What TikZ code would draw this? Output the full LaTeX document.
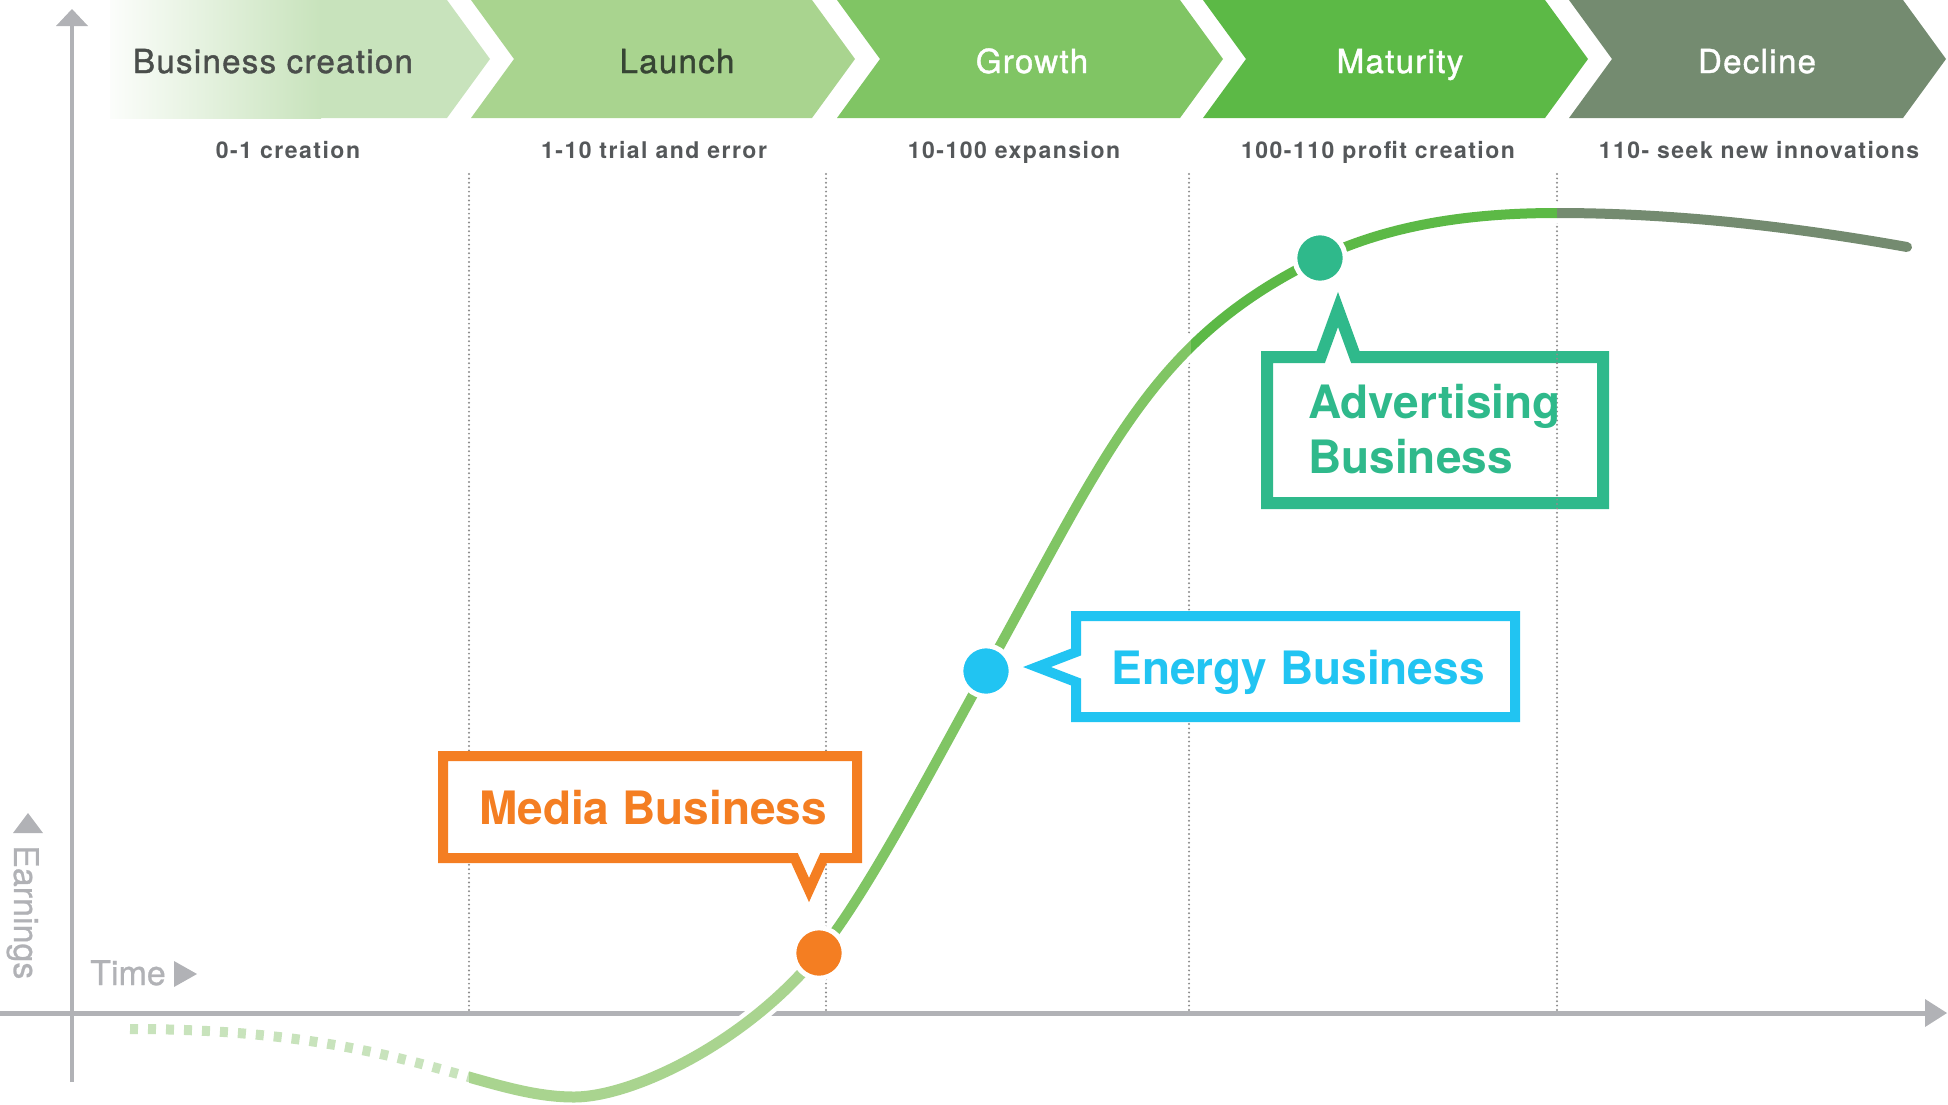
\documentclass[tikz,border=0pt]{standalone}
\usepackage{fontspec}
\setmainfont{TeX Gyre Heros}
\newfontfamily\chevfont{TeX Gyre Heros}[LetterSpace=4, FakeBold=1.2]
\newfontfamily\tagfont{TeX Gyre Heros}[LetterSpace=6.5]
\newfontfamily\axisfont{TeX Gyre Heros}[FakeBold=0.8]

\definecolor{stageA}{HTML}{C8E3BC}
\definecolor{stageB}{HTML}{A9D48F}
\definecolor{stageC}{HTML}{80C564}
\definecolor{stageD}{HTML}{5CB946}
\definecolor{stageE}{HTML}{748B70}
\definecolor{axisgray}{HTML}{B1B2B6}
\definecolor{guidegray}{HTML}{8C8C8C}
\definecolor{subgray}{HTML}{55585A}
\definecolor{darktxt}{HTML}{4A4E4B}
\definecolor{launchtxt}{HTML}{374534}
\definecolor{mediaor}{HTML}{F47E22}
\definecolor{energybl}{HTML}{21C4F2}
\definecolor{adteal}{HTML}{2FB98B}

% earnings curve through the life-cycle stages
\newcommand\lifecurve{(130,1029)
  .. controls (400,1029) and (480,1097) .. (574,1097)
  .. controls (634,1097) and (749,1040.5) .. (819,953)
  .. controls (869,890.5) and (931,770) .. (986,671)
  .. controls (1106,455) and (1150,339.6) .. (1320,258)
  .. controls (1395,222) and (1480,213) .. (1557,213)
  .. controls (1680,213) and (1800,228) .. (1907,247)}

\begin{document}
\begin{tikzpicture}[x=1pt,y=-1pt,line join=miter,
  stagelbl/.style={inner sep=0pt, anchor=base, font=\chevfont\fontsize{33}{40}\selectfont},
  sublbl/.style={inner sep=0pt, anchor=base, text=subgray, font=\tagfont\bfseries\fontsize{23}{27}\selectfont},
  guide/.style={guidegray, line width=2.2pt, line cap=round, dash pattern=on 0pt off 4.4pt},
  callout/.style={line width=10pt, miter limit=10},
  calltxt/.style={inner sep=0pt, anchor=base, font=\bfseries\fontsize{46}{55}\selectfont},
  marker/.style={circle, inner sep=0pt, minimum size=50.4pt, draw=white, line width=5pt},
  axislbl/.style={inner sep=0pt, text=axisgray, font=\axisfont\fontsize{34}{40}\selectfont},
]
\useasboundingbox (0,0) rectangle (1948,1104);

% ---- stage chevrons ----
\fill[stageA] (110,0) -- (447,0) -- (490,59) -- (447,118) -- (110,118) -- cycle;
\shade[left color=stageA!6, right color=stageA] (110,0) rectangle (321,118);
\fill[stageB] (471,0) -- (812,0) -- (855,59) -- (812,118) -- (471,118) -- (514,59) -- cycle;
\fill[stageC] (837,0) -- (1180,0) -- (1223,59) -- (1180,118) -- (837,118) -- (880,59) -- cycle;
\fill[stageD] (1203,0) -- (1545,0) -- (1588,59) -- (1545,118) -- (1203,118) -- (1246,59) -- cycle;
\fill[stageE] (1569,0) -- (1903,0) -- (1946,59) -- (1903,118) -- (1569,118) -- (1612,59) -- cycle;

\node[stagelbl, text=darktxt]   (s1) at (273,73)  {Business creation};
\node[stagelbl, text=launchtxt] (s2) at (677,73)  {Launch};
\node[stagelbl, text=white]     (s3) at (1032,73) {Growth};
\node[stagelbl, text=white]     (s4) at (1400,73) {Maturity};
\node[stagelbl, text=white]     (s5) at (1757,73) {Decline};

\node[sublbl] (t1) at (288,158)  {0-1 creation};
\node[sublbl] (t2) at (654,158)  {1-10 trial and error};
\node[sublbl] (t3) at (1014,158) {10-100 expansion};
\node[sublbl] (t4) at (1378,158) {100-110 profit creation};
\node[sublbl] (t5) at (1759,158) {110- seek new innovations};

% ---- axes ----
\draw[axisgray, line width=4.5pt] (72,1082) -- (72,24);
\fill[axisgray] (72,9) -- (88,26) -- (56,26) -- cycle;
\draw[axisgray, line width=5pt] (0,1013) -- (1926,1013);
\fill[axisgray] (1947,1013) -- (1925,999) -- (1925,1027) -- cycle;

\fill[axisgray] (28,813) -- (43,833) -- (13,833) -- cycle;
\node[axislbl, rotate=-90, anchor=base west] (earn) at (14,845) {Earnings};
\node[axislbl, anchor=base west] (time) at (90,985) {Time};
\fill[axisgray] (197,974) -- (174,961) -- (174,987) -- cycle;

% ---- advertising callout (open frame) ----
\draw[adteal, callout, line width=12pt] (1267,357) -- (1320.7,357) -- (1338,309.5) -- (1355.3,357)
  -- (1603,357) -- (1603,503) -- (1267,503) -- cycle;

% ---- stage boundaries ----
\foreach \gx in {469,826,1189,1557}
  \draw[guide] (\gx,174) -- (\gx,1011);

% ---- earnings curve ----
\draw[white, line width=20pt] \lifecurve;
\begin{scope}
  \clip (0,0) rectangle (469,1104);
  \draw[stageA, line width=10pt, dash pattern=on 8pt off 10pt] \lifecurve;
\end{scope}
\begin{scope}
  \clip (469,0) rectangle (826,1104);
  \draw[stageB, line width=11pt] \lifecurve;
\end{scope}
\begin{scope}
  \clip (826,0) rectangle (1191,1104);
  \draw[stageC, line width=10pt] \lifecurve;
\end{scope}
\begin{scope}
  \clip (1191,0) rectangle (1557,1104);
  \draw[stageD, line width=10pt] \lifecurve;
\end{scope}
\begin{scope}
  \clip (1557,0) rectangle (1948,1104);
  \draw[stageE, line width=10pt, line cap=round] \lifecurve;
\end{scope}

% ---- media and energy callouts ----
\draw[mediaor, callout, fill=white] (443,756) -- (857,756) -- (857,858) -- (823.5,858) -- (809,890)
  -- (794.5,858) -- (443,858) -- cycle;
\draw[energybl, callout, fill=white] (1076,616) -- (1515,616) -- (1515,717) -- (1076,717)
  -- (1076,682) -- (1037,667) -- (1076,652) -- cycle;

% ---- markers on the curve ----
\node[marker, fill=mediaor]  (mdot) at (819,953) {};
\node[marker, fill=energybl] (edot) at (986,671) {};
\node[marker, fill=adteal]   (adot) at (1320,258) {};

% ---- callout texts ----
\node[calltxt, text=mediaor]  (media)  at (653,824)  {Media Business};
\node[calltxt, text=energybl] (energy) at (1298,684) {Energy Business};
\node[calltxt, text=adteal, anchor=base west] (adv1) at (1308,418) {Advertising};
\node[calltxt, text=adteal, anchor=base west] (adv2) at (1308,473) {Business};
\end{tikzpicture}
\end{document}
